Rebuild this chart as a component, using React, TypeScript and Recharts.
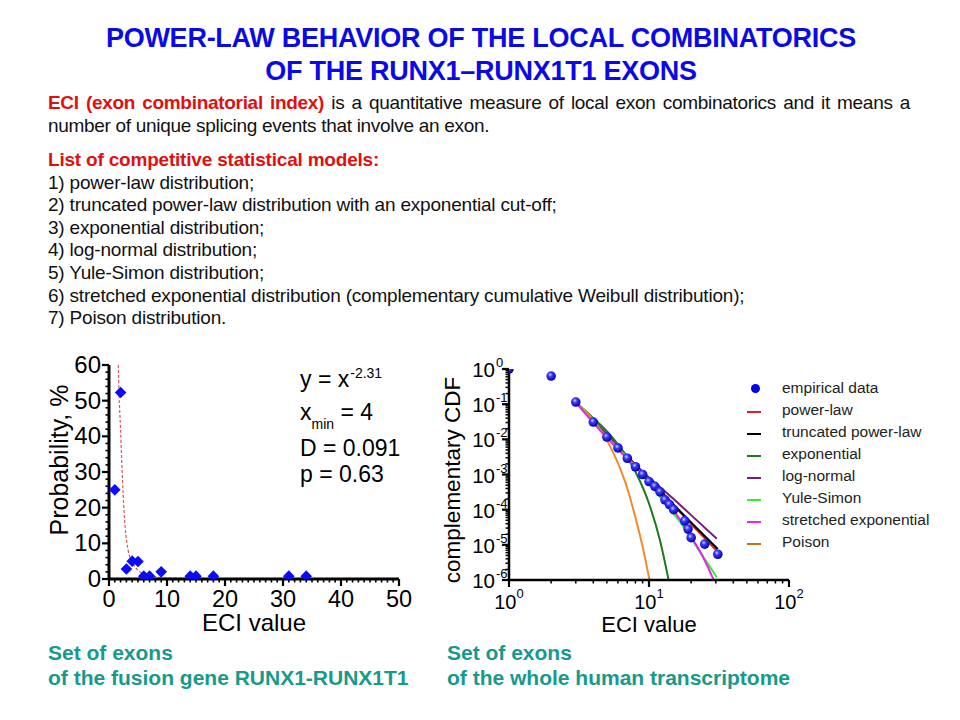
import React from 'react';
import { ComposedChart, Scatter, Line, XAxis, YAxis, Label } from 'recharts';

// ---------- Left chart data (RUNX1-RUNX1T1 exons) ----------
const leftEci = [1, 2, 3, 4, 5, 6, 7, 9, 14, 15, 18, 31, 34];
const leftProb = [25, 52.3, 2.8, 5, 4.9, 0.8, 0.8, 2, 0.8, 0.8, 0.8, 0.8, 0.8];
const fitEci = [1.6, 1.73, 1.97, 2.19, 2.43, 2.78, 3.3, 4.1, 5.9, 9.9, 15, 20, 30, 40, 50];
const fitProb = [60, 52, 42.7, 33.3, 24, 14.6, 8.1, 4.4, 1.6, 0.3, 0.15, 0.08, 0.04, 0.02, 0.01];
const leftXTicks = [0, 10, 20, 30, 40, 50];
const leftYTicks = [0, 10, 20, 30, 40, 50, 60];

// ---------- Right chart data (whole human transcriptome) ----------
const empEci = [1, 2, 3, 4, 5, 6, 7, 8, 9, 10, 11, 12, 13, 14, 15, 18, 19, 20, 25, 31];
const empCcdf = [1, 0.63, 0.115, 0.031, 0.0116, 0.0057, 0.0029, 0.00166, 0.001, 0.00063, 0.00046, 0.00032, 0.00019, 0.00014, 0.0001, 4.8e-5, 2.8e-5, 1.6e-5, 1.05e-5, 5.4e-6];

const powerLawX = [3, 5, 10, 20, 31];
const powerLawY = [0.113, 0.0125, 7.2e-4, 3.9e-5, 6.3e-6];
const truncX = [3, 5, 10, 20, 31];
const truncY = [0.113, 0.013, 7.6e-4, 4.3e-5, 7.6e-6];
const expX = [3, 4, 5, 6, 8, 10, 12, 13.8];
const expY = [0.113, 0.04, 0.017, 0.0072, 0.0012, 1.5e-4, 1.3e-5, 1e-6];
const logNormX = [3, 5, 9, 15, 20, 30.5];
const logNormY = [0.113, 0.0139, 0.0012, 2e-4, 7e-5, 1.5e-5];
const yuleX = [3, 5, 8, 12, 17, 24, 30.5];
const yuleY = [0.113, 0.0119, 0.0017, 2.3e-4, 4e-5, 5e-6, 1.2e-6];
const stretchX = [3, 5, 7, 10, 14, 19.6, 24, 29];
const stretchY = [0.113, 0.011, 0.0028, 6.5e-4, 1.4e-4, 1.9e-5, 5e-6, 1e-6];
const poisX = [3, 4, 5, 6, 7, 8, 9, 10, 10.1];
const poisY = [0.113, 0.035, 0.0095, 0.0021, 4e-4, 6e-5, 9e-6, 1.2e-6, 1e-6];

const rightXMajor = [1, 10, 100];
const rightYMajor = [1e-6, 1e-5, 1e-4, 1e-3, 1e-2, 1e-1, 1];
const mantissas = [1, 2, 3, 4, 5, 6, 7, 8, 9];

const legendNames = ['empirical data', 'power-law', 'truncated power-law', 'exponential', 'log-normal', 'Yule-Simon', 'stretched exponential', 'Poison'];
const legendColors = ['#0000ee', '#e02020', '#000000', '#1d7a1d', '#7a1a7a', '#33ee33', '#ee22ee', '#c8701e'];

const zip = (xs: number[], ys: number[]) => xs.map((x, i) => ({ x, y: ys[i] }));

const leftPoints = zip(leftEci, leftProb);
const fitPoints = zip(fitEci, fitProb);
const empPoints = zip(empEci, empCcdf);

const curves = [
  { name: 'power-law', data: zip(powerLawX, powerLawY), color: '#e02020' },
  { name: 'truncated power-law', data: zip(truncX, truncY), color: '#000000' },
  { name: 'log-normal', data: zip(logNormX, logNormY), color: '#7a1a7a' },
  { name: 'exponential', data: zip(expX, expY), color: '#1d7a1d' },
  { name: 'Poison', data: zip(poisX, poisY), color: '#f58a2a' },
  { name: 'Yule-Simon', data: zip(yuleX, yuleY), color: '#33ee33' },
  { name: 'stretched exponential', data: zip(stretchX, stretchY), color: '#ee22ee' },
];

const rangeStep = (a: number, b: number, s: number) => {
  const r: number[] = [];
  for (let v = a; v <= b + 1e-9; v += s) r.push(Math.round(v * 1000) / 1000);
  return r;
};
const leftXAll = rangeStep(0, 50, 1);
const leftYAll = rangeStep(0, 60, 2);
const rightXAll: number[] = [];
[1, 10].forEach((d) => mantissas.forEach((m) => rightXAll.push(+(m * d).toPrecision(6))));
rightXAll.push(100);
const rightYAll: number[] = [];
rightYMajor.slice(0, 6).forEach((d) => mantissas.forEach((m) => rightYAll.push(+(m * d).toPrecision(6))));
rightYAll.push(1);

const FONT = '"Liberation Sans", Arial, sans-serif';

const LeftXTick = (props: any) => {
  const { x, y, payload } = props;
  const major = leftXTicks.includes(payload.value);
  return (
    <g>
      <line x1={x} x2={x} y1={y} y2={y + (major ? 7 : 3.5)} stroke="#000" strokeWidth={major ? 2.2 : 1.6} />
      {major && (
        <text x={x} y={y + 27.5} textAnchor="middle" fontSize={23.5} fontFamily={FONT} fill="#000">{payload.value}</text>
      )}
    </g>
  );
};
const LeftYTick = (props: any) => {
  const { x, y, payload } = props;
  const major = leftYTicks.includes(payload.value);
  return (
    <g>
      <line x1={x} x2={x - (major ? 7 : 3.5)} y1={y} y2={y} stroke="#000" strokeWidth={major ? 2.2 : 1.6} />
      {major && (
        <text x={x - 8} y={y + 8} textAnchor="end" fontSize={24} fontFamily={FONT} fill="#000">{payload.value}</text>
      )}
    </g>
  );
};
const RightXTick = (props: any) => {
  const { x, y, payload } = props;
  const major = rightXMajor.includes(payload.value);
  const e = Math.round(Math.log10(payload.value));
  return (
    <g>
      <line x1={x} x2={x} y1={y} y2={y + (major ? 7 : 3.5)} stroke="#000" strokeWidth={major ? 2.2 : 1.5} />
      {major && (
        <text x={x} y={y + 29} textAnchor="middle" fontSize={20} fontFamily={FONT} fill="#000">
          10<tspan dy={-11} fontSize={13}>{e}</tspan>
        </text>
      )}
    </g>
  );
};
const RightYTick = (props: any) => {
  const { x, y, payload } = props;
  const major = rightYMajor.some((m) => Math.abs(m - payload.value) / m < 1e-6);
  const e = Math.round(Math.log10(payload.value));
  return (
    <g>
      <line x1={x} x2={x - (major ? 7 : 3.5)} y1={y} y2={y} stroke="#000" strokeWidth={major ? 2.2 : 1.5} />
      {major && (
        <g>
          <text x={x - 14} y={y + 8} textAnchor="end" fontSize={20.5} fontFamily={FONT} fill="#000">10</text>
          <text x={x - 13} y={y - 2} textAnchor="start" fontSize={13} fontFamily={FONT} fill="#000">{e === 0 ? '0' : '-' + Math.abs(e)}</text>
        </g>
      )}
    </g>
  );
};

const Diamond = (props: any) => {
  const { cx, cy } = props;
  const r = 5.8;
  return <path d={`M${cx},${cy - r}L${cx + r},${cy}L${cx},${cy + r}L${cx - r},${cy}Z`} fill="#0a0aff" />;
};
const Sphere = (props: any) => {
  const { cx, cy } = props;
  return <circle cx={cx} cy={cy} r={4.8} fill="url(#sphereGrad)" />;
};

const axisLabelStyle = { fontFamily: FONT, fill: '#000' };

export default function App() {
  return (
    <div style={{ position: 'absolute', left: 0, top: 0, width: 960, height: 720, background: '#fff', fontFamily: FONT, overflow: 'hidden' }}>
      {/* Title */}
      <div style={{ position: 'absolute', left: 0, top: 22, width: 962, textAlign: 'center', color: '#0a0ae6', fontWeight: 'bold', fontSize: 27, lineHeight: '33px', letterSpacing: -0.25 }}>
        POWER-LAW BEHAVIOR OF THE LOCAL COMBINATORICS<br />OF THE RUNX1–RUNX1T1 EXONS
      </div>
      {/* Paragraph */}
      <div style={{ position: 'absolute', left: 48, top: 92, width: 862, fontSize: 19, lineHeight: '22.5px', color: '#111', textAlign: 'justify', letterSpacing: -0.3 }}>
        <span style={{ color: '#e01010', fontWeight: 'bold' }}>ECI (exon combinatorial index)</span> is a quantitative measure of local exon combinatorics and it means a number of unique splicing events that involve an exon.
      </div>
      {/* List */}
      <div style={{ position: 'absolute', left: 48, top: 149, width: 890, fontSize: 19, lineHeight: '22.6px', color: '#111', letterSpacing: -0.2 }}>
        <div style={{ color: '#e01010', fontWeight: 'bold' }}>List of competitive statistical models:</div>
        <div>1) power-law distribution;</div>
        <div>2) truncated power-law distribution with an exponential cut-off;</div>
        <div>3) exponential distribution;</div>
        <div>4) log-normal distribution;</div>
        <div>5) Yule-Simon distribution;</div>
        <div>6) stretched exponential distribution (complementary cumulative Weibull distribution);</div>
        <div>7) Poison distribution.</div>
      </div>

      {/* Left chart */}
      <div style={{ position: 'absolute', left: 40, top: 340 }}>
        <ComposedChart width={380} height={310} margin={{ top: 25, right: 21, bottom: 31, left: 24 }}>
          <XAxis type="number" dataKey="x" domain={[0, 50]} ticks={leftXAll} interval={0} allowDataOverflow
            tick={<LeftXTick />} tickLine={false} tickSize={0} tickMargin={0} height={40}
            axisLine={{ stroke: '#000', strokeWidth: 3 }}>
            <Label content={(p: any) => (
              <text x={p.viewBox.x + p.viewBox.width / 2} y={p.viewBox.y + 52} textAnchor="middle" fontSize={24} style={axisLabelStyle}>ECI value</text>
            )} />
          </XAxis>
          <YAxis type="number" dataKey="y" domain={[0, 60]} ticks={leftYAll} interval={0} allowDataOverflow
            tick={<LeftYTick />} tickLine={false} tickSize={0} tickMargin={0} width={45}
            axisLine={{ stroke: '#000', strokeWidth: 3 }}>
            <Label content={() => {
              const cx = 28; const cy = 460 - 340;
              return <text x={cx} y={cy} transform={`rotate(-90 ${cx} ${cy})`} textAnchor="middle" fontSize={25} style={axisLabelStyle}>Probability, %</text>;
            }} />
          </YAxis>
          <Line data={fitPoints} dataKey="y" type="monotone" stroke="#e25555" strokeWidth={1.2} strokeDasharray="3 2" dot={false} isAnimationActive={false} />
          <Scatter data={leftPoints} shape={<Diamond />} isAnimationActive={false} />
        </ComposedChart>
      </div>
      <svg style={{ position: 'absolute', left: 0, top: 0 }} width={960} height={720} pointerEvents="none">
        <g fontFamily={FONT} fill="#000" fontSize={23}>
          <text x={300} y={387}>y = x<tspan dx={1} dy={-9} fontSize={14}>-2.31</tspan></text>
          <text x={300} y={419.5}>x<tspan dx={0} dy={9} fontSize={14}>min</tspan><tspan dx={0} dy={-9}> = 4</tspan></text>
          <text x={300} y={456}>D = 0.091</text>
          <text x={300} y={482}>p = 0.63</text>
        </g>
      </svg>

      {/* Right chart */}
      <div style={{ position: 'absolute', left: 430, top: 340 }}>
        <ComposedChart width={380} height={310} margin={{ top: 29, right: 21, bottom: 30, left: 19 }}>
          <defs>
            <radialGradient id="sphereGrad" cx="40%" cy="35%" r="65%">
              <stop offset="0%" stopColor="#ccd4ff" />
              <stop offset="35%" stopColor="#3a3aff" />
              <stop offset="100%" stopColor="#0000a0" />
            </radialGradient>
          </defs>
          <XAxis type="number" dataKey="x" scale="log" domain={[1, 100]} ticks={rightXAll} interval={0} allowDataOverflow
            tick={<RightXTick />} tickLine={false} tickSize={0} tickMargin={0} height={40}
            axisLine={{ stroke: '#000', strokeWidth: 2.5 }}>
            <Label content={(p: any) => (
              <text x={p.viewBox.x + p.viewBox.width / 2} y={p.viewBox.y + 52} textAnchor="middle" fontSize={22} style={axisLabelStyle}>ECI value</text>
            )} />
          </XAxis>
          <YAxis type="number" dataKey="y" scale="log" domain={[1e-6, 1]} ticks={rightYAll} interval={0} allowDataOverflow
            tick={<RightYTick />} tickLine={false} tickSize={0} tickMargin={0} width={60}
            axisLine={{ stroke: '#000', strokeWidth: 2.5 }}>
            <Label content={() => {
              const cx = 460 - 430; const cy = 480 - 340;
              return <text x={cx} y={cy} transform={`rotate(-90 ${cx} ${cy})`} textAnchor="middle" fontSize={22.5} style={axisLabelStyle}>complementary CDF</text>;
            }} />
          </YAxis>
          <Scatter data={empPoints} shape={<Sphere />} isAnimationActive={false} />
          {curves.map((c) => (
            <Line key={c.name} data={c.data} dataKey="y" type="monotone" stroke={c.color} strokeWidth={2} dot={false} isAnimationActive={false} />
          ))}
        </ComposedChart>
      </div>

      {/* Legend */}
      <div style={{ position: 'absolute', left: 740, top: 377, fontSize: 15.5, color: '#222' }}>
        {legendNames.map((n, i) => (
          <div key={n} style={{ position: 'relative', height: 22, lineHeight: '22px', paddingLeft: 42, whiteSpace: 'nowrap' }}>
            {i === 0 ? (
              <span style={{ position: 'absolute', left: 11, top: 7, width: 9, height: 9, borderRadius: '50%', background: legendColors[i] }} />
            ) : (
              <span style={{ position: 'absolute', left: 7, top: 12, width: 14, height: 2, background: legendColors[i] }} />
            )}
            {n}
          </div>
        ))}
      </div>

      {/* Captions */}
      <div style={{ position: 'absolute', left: 48, top: 640, fontSize: 21, lineHeight: '25px', fontWeight: 'bold', color: '#17998b', whiteSpace: 'nowrap' }}>
        Set of exons<br />of the fusion gene RUNX1-RUNX1T1
      </div>
      <div style={{ position: 'absolute', left: 447, top: 640, fontSize: 21, lineHeight: '25px', fontWeight: 'bold', color: '#17998b', whiteSpace: 'nowrap' }}>
        Set of exons<br />of the whole human transcriptome
      </div>
    </div>
  );
}
